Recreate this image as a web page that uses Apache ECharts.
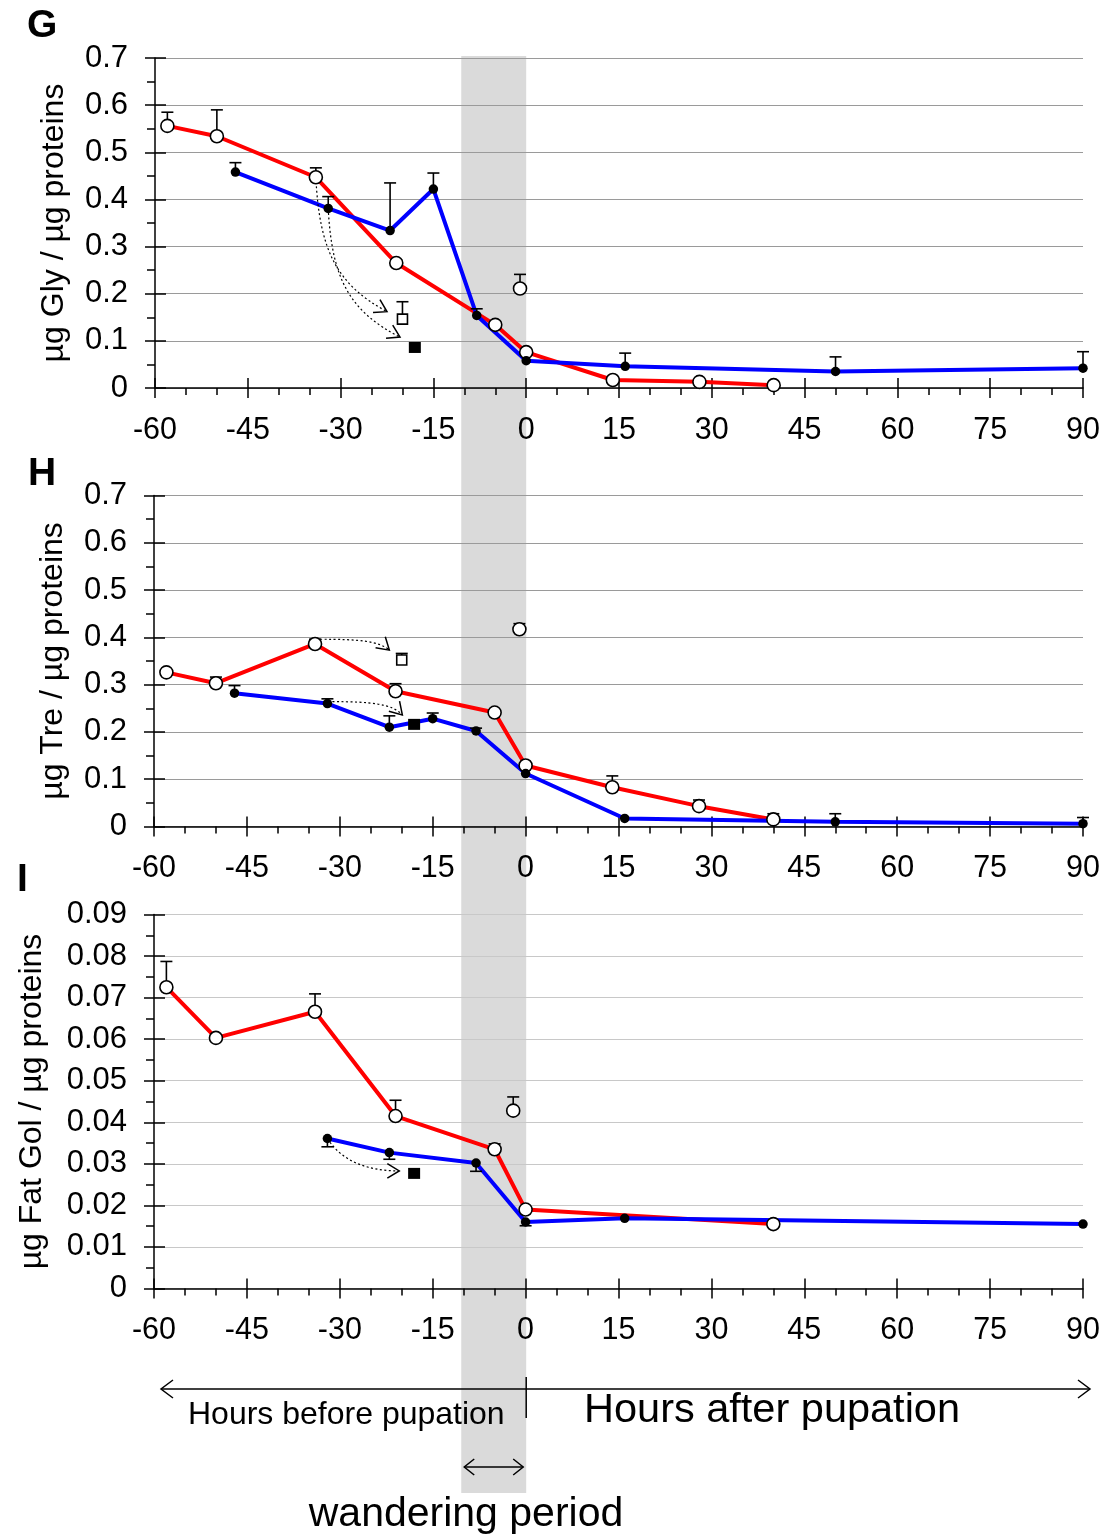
<!DOCTYPE html>
<html><head><meta charset="utf-8">
<script src="https://cdn.jsdelivr.net/npm/echarts@6/dist/echarts.min.js"></script>
<style>html,body{margin:0;padding:0;background:#fff}#c{width:1110px;height:1539px}</style>
</head><body><div id="c"></div>
<script>
// ---------- data ----------
const xTickLabels = [-60,-45,-30,-15,0,15,30,45,60,75,90];
const wandering = [-10.5, 0];

// Panel G : glycogen
const gRedX   = [-58,-50,-34,-21,-5,0,14,28,40];
const gRedY   = [0.556,0.534,0.447,0.265,0.134,0.076,0.017,0.013,0.006];
const gRedErr = [0.029,0.056,0.020,0.007,0.007,0,0,0,0];
const gBlueX  = [-47,-32,-22,-15,-8,0,16,50,90];
const gBlueY  = [0.458,0.381,0.334,0.422,0.154,0.058,0.046,0.035,0.042];
const gBlueErr= [0.020,0.025,0.101,0.034,0.014,0,0.028,0.031,0.035];
const gIsoX = [-1], gIsoY = [0.211], gIsoErr = [0.030];
const gOpenSqX = [-20], gOpenSqY = [0.146], gOpenSqErr = [0.037];
const gFillSqX = [-18], gFillSqY = [0.086];

// Panel H : trehalose
const hRedX   = [-58,-50,-34,-21,-5,0,14,28,40];
const hRedY   = [0.326,0.303,0.386,0.286,0.241,0.129,0.083,0.043,0.015];
const hRedErr = [0.004,0.013,0.010,0.016,0.003,0.005,0.024,0.013,0.012];
const hBlueX  = [-47,-32,-22,-15,-8,0,16,50,90];
const hBlueY  = [0.282,0.260,0.210,0.228,0.202,0.112,0.017,0.010,0.006];
const hBlueErr= [0.016,0.010,0.024,0.012,0.006,0,0,0.017,0.013];
const hIsoX = [-1], hIsoY = [0.417], hIsoErr = [0.012];
const hOpenSqX = [-20], hOpenSqY = [0.352], hOpenSqErr = [0.014];
const hFillSqX = [-18], hFillSqY = [0.216];

// Panel I : fat glycerol
const iRedX   = [-58,-50,-34,-21,-5,0,40];
const iRedY   = [0.0725,0.0603,0.0666,0.0415,0.0335,0.0190,0.0155];
const iRedErr = [0.0062,0,0.0043,0.0038,0.0013,0,0];
const iBlueX  = [-32,-22,-8,0,16,90];
const iBlueY  = [0.0361,0.0327,0.0302,0.0160,0.0169,0.0155];
const iBlueErr= [0.0020,0.0016,0.0020,0.0009,0,0];
const iIsoX = [-2], iIsoY = [0.0428], iIsoErr = [0.0033];
const iOpenSqX = [], iOpenSqY = [], iOpenSqErr = [];
const iFillSqX = [-18], iFillSqY = [0.0277];

// dotted annotation arrows (data coordinates: from, to)
const gArrows = [[[-34,0.447],[-22.5,0.162]], [[-32,0.381],[-20.4,0.108]]];
const hArrows = [[[-33.2,0.396],[-22.0,0.373]], [[-31.2,0.264],[-19.9,0.236]]];
const iArrows = [[[-32,0.0361],[-20.4,0.0283]]];

// ---------- layout / style ----------
const F = "'Liberation Sans', Arial, Helvetica, sans-serif";
const panels = [
  {letter:'G', letterPos:[27,26], grid:{left:155,top:58,width:928,height:330}, ymax:0.7, yint:0.1, gridColor:'#9a9a9a',
   name:'µg Gly / µg proteins', nameGap:85,
   red:[gRedX,gRedY,gRedErr], blue:[gBlueX,gBlueY,gBlueErr], blueDir:1,
   iso:[gIsoX,gIsoY,gIsoErr], osq:[gOpenSqX,gOpenSqY,gOpenSqErr], fsq:[gFillSqX,gFillSqY],
   arrows:gArrows, c1:[0.05,0.55], c2:[0.3,0.8]},
  {letter:'H', letterPos:[28,474], grid:{left:154,top:495.5,width:929,height:331}, ymax:0.7, yint:0.1, gridColor:'#9a9a9a',
   name:'µg Tre / µg proteins', nameGap:85,
   red:[hRedX,hRedY,hRedErr], blue:[hBlueX,hBlueY,hBlueErr], blueDir:1,
   iso:[hIsoX,hIsoY,hIsoErr], osq:[hOpenSqX,hOpenSqY,hOpenSqErr], fsq:[hFillSqX,hFillSqY],
   arrows:hArrows, c1:[0.55,0], c2:[0.85,0.15]},
  {letter:'I', letterPos:[17,880], grid:{left:154,top:914.5,width:929,height:374}, ymax:0.09, yint:0.01, gridColor:'#c8c8c8',
   name:'µg Fat Gol / µg proteins', nameGap:106,
   red:[iRedX,iRedY,iRedErr], blue:[iBlueX,iBlueY,iBlueErr], blueDir:-1,
   iso:[iIsoX,iIsoY,iIsoErr], osq:[iOpenSqX,iOpenSqY,iOpenSqErr], fsq:[iFillSqX,iFillSqY],
   arrows:iArrows, c1:[0.2,0.7], c2:[0.55,1.0]}
];

const zip = (xs, ys) => xs.map((x,i)=>[x, ys[i]]);
const errData = (xs, ys, es, dir) => xs.map((x,i)=>[x, ys[i], dir*es[i]]).filter(d=>d[2]!==0);
const blk = {color:'#000', width:1.5};

const option = {animation:false, grid:[], xAxis:[], yAxis:[], series:[]};

panels.forEach((p,k)=>{
  option.grid.push(Object.assign({containLabel:false}, p.grid));
  const xi = option.xAxis.length, yi = option.yAxis.length;
  option.xAxis.push({gridIndex:k, type:'value', min:xTickLabels[0], max:xTickLabels[xTickLabels.length-1], interval:15, position:'bottom',
    axisLine:{show:true, onZero:false, lineStyle:blk},
    axisTick:{show:true, length:10, lineStyle:blk},
    minorTick:{show:true, splitNumber:3, length:7, lineStyle:blk},
    splitLine:{show:false},
    axisLabel:{fontSize:30.5, fontFamily:F, color:'#000', margin:27}});
  option.xAxis.push({gridIndex:k, type:'value', min:xTickLabels[0], max:xTickLabels[xTickLabels.length-1], interval:15, position:'bottom',
    axisLine:{show:false, onZero:false}, axisTick:{show:true, inside:true, length:10, lineStyle:blk},
    axisLabel:{show:false}, splitLine:{show:false}});
  option.yAxis.push({gridIndex:k, type:'value', min:0, max:p.ymax, interval:p.yint, position:'left',
    axisLine:{show:true, onZero:false, lineStyle:blk},
    axisTick:{show:true, length:10, lineStyle:blk},
    minorTick:{show:true, splitNumber:2, length:8, lineStyle:blk},
    splitLine:{show:true, lineStyle:{color:p.gridColor, width:1.2}},
    axisLabel:{fontSize:31, fontFamily:F, color:'#000', margin:27,
      formatter:v=>String(Math.round(v*1000)/1000)},
    name:p.name, nameLocation:'middle', nameGap:p.nameGap,
    nameTextStyle:{fontSize:32, fontFamily:F, color:'#000'}});
  option.yAxis.push({gridIndex:k, type:'value', min:0, max:p.ymax, interval:p.yint, position:'left',
    axisLine:{show:false, onZero:false}, axisTick:{show:true, inside:true, length:11, lineStyle:blk},
    axisLabel:{show:false}, splitLine:{show:false}});

  const ax = {xAxisIndex:xi, yAxisIndex:yi};
  option.series.push(Object.assign({type:'line', data:zip(p.red[0],p.red[1]), symbol:'none', z:2,
    lineStyle:{color:'#ff0000', width:4}}, ax));
  option.series.push(Object.assign({type:'line', data:zip(p.blue[0],p.blue[1]), symbol:'none', z:2,
    lineStyle:{color:'#0000ff', width:4}}, ax));
  const errs = [].concat(
    errData(p.red[0],p.red[1],p.red[2],1),
    errData(p.blue[0],p.blue[1],p.blue[2],p.blueDir),
    errData(p.iso[0],p.iso[1],p.iso[2],1),
    errData(p.osq[0],p.osq[1],p.osq[2],1));
  option.series.push(Object.assign({type:'custom', z:3, data:errs, encode:{x:0,y:1},
    renderItem:(params, api)=>{
      const x=api.value(0), y=api.value(1), e=api.value(2);
      const a=api.coord([x,y]), b=api.coord([x,y+e]);
      const hw=6;
      return {type:'group', children:[
        {type:'line', shape:{x1:a[0],y1:a[1],x2:b[0],y2:b[1]}, style:{stroke:'#000',lineWidth:1.6}},
        {type:'line', shape:{x1:b[0]-hw,y1:b[1],x2:b[0]+hw,y2:b[1]}, style:{stroke:'#000',lineWidth:1.6}}
      ]};
    }}, ax));
  option.series.push(Object.assign({type:'scatter', z:5, symbol:'circle', symbolSize:13,
    data:zip(p.red[0],p.red[1]).concat(zip(p.iso[0],p.iso[1])),
    itemStyle:{color:'#ffffff', borderColor:'#000', borderWidth:1.6, opacity:1}}, ax));
  option.series.push(Object.assign({type:'scatter', z:5, symbol:'circle', symbolSize:9.5,
    data:zip(p.blue[0],p.blue[1]), itemStyle:{color:'#000', opacity:1}}, ax));
  option.series.push(Object.assign({type:'scatter', z:5, symbol:'rect', symbolSize:10,
    data:zip(p.osq[0],p.osq[1]), itemStyle:{color:'#ffffff', borderColor:'#000', borderWidth:1.6, opacity:1}}, ax));
  option.series.push(Object.assign({type:'scatter', z:5, symbol:'rect', symbolSize:[12,11],
    data:zip(p.fsq[0],p.fsq[1]), itemStyle:{color:'#000', opacity:1}}, ax));
});

const chart = echarts.init(document.getElementById('c'), null, {renderer:'canvas'});
chart.setOption(option);

// ---------- annotations ----------
const g = [];
const px0 = chart.convertToPixel({gridIndex:0}, [wandering[0], 0]);
const px1 = chart.convertToPixel({gridIndex:0}, [wandering[1], 0]);
g.push({type:'rect', z:-1, silent:true, shape:{x:px0[0], y:56, width:px1[0]-px0[0], height:1493-56}, style:{fill:'#dadada'}});

function arrowHead(tip, dir, len, ang){
  const pts = [];
  [ang, -ang].forEach(a=>{
    const c=Math.cos(a), s=Math.sin(a);
    const rx = -(dir[0]*c - dir[1]*s), ry = -(dir[0]*s + dir[1]*c);
    pts.push([tip[0]+rx*len, tip[1]+ry*len]);
  });
  return [pts[0], tip, pts[1]];
}

panels.forEach((p,k)=>{
  g.push({type:'text', z:10, style:{text:p.letter, x:p.letterPos[0], y:p.letterPos[1], font:'bold 39px '+F, fill:'#000', align:'left', verticalAlign:'middle'}});
  p.arrows.forEach(([from,to])=>{
    const a = chart.convertToPixel({gridIndex:k}, from);
    const b = chart.convertToPixel({gridIndex:k}, to);
    const dx=b[0]-a[0], dy=b[1]-a[1];
    const c1=[a[0]+p.c1[0]*dx, a[1]+p.c1[1]*dy], c2=[a[0]+p.c2[0]*dx, a[1]+p.c2[1]*dy];
    g.push({type:'bezierCurve', z:3, shape:{x1:a[0],y1:a[1],cpx1:c1[0],cpy1:c1[1],cpx2:c2[0],cpy2:c2[1],x2:b[0],y2:b[1]},
      style:{stroke:'#000', lineWidth:1.2, lineDash:[2,2.5], fill:null}});
    let tx=b[0]-c2[0], ty=b[1]-c2[1]; const L=Math.hypot(tx,ty)||1; tx/=L; ty/=L;
    g.push({type:'polyline', z:3, shape:{points:arrowHead(b,[tx,ty],14,0.55)}, style:{stroke:'#000', lineWidth:1.5, fill:null}});
  });
});

// bottom time-line annotation
const x0 = px1[0];
const yl = 1389;
g.push({type:'line', shape:{x1:161,y1:yl,x2:1090,y2:yl}, style:{stroke:'#000', lineWidth:1.5}});
g.push({type:'polyline', shape:{points:[[173,yl-9],[161,yl],[173,yl+9]]}, style:{stroke:'#000', lineWidth:1.5, fill:null}});
g.push({type:'polyline', shape:{points:[[1078,yl-9],[1090,yl],[1078,yl+9]]}, style:{stroke:'#000', lineWidth:1.5, fill:null}});
g.push({type:'line', shape:{x1:x0,y1:1377,x2:x0,y2:1418}, style:{stroke:'#000', lineWidth:1.5}});
g.push({type:'text', style:{text:'Hours before pupation', x:188, y:1415, font:'32px '+F, fill:'#000', align:'left', verticalAlign:'middle'}});
g.push({type:'text', style:{text:'Hours after pupation', x:584, y:1411, font:'41.5px '+F, fill:'#000', align:'left', verticalAlign:'middle'}});
const ya = 1467;
g.push({type:'line', shape:{x1:px0[0]+3,y1:ya,x2:x0-3,y2:ya}, style:{stroke:'#000', lineWidth:1.5}});
g.push({type:'polyline', shape:{points:[[px0[0]+13,ya-8],[px0[0]+3,ya],[px0[0]+13,ya+8]]}, style:{stroke:'#000', lineWidth:1.5, fill:null}});
g.push({type:'polyline', shape:{points:[[x0-13,ya-8],[x0-3,ya],[x0-13,ya+8]]}, style:{stroke:'#000', lineWidth:1.5, fill:null}});
g.push({type:'text', style:{text:'wandering period', x:466, y:1515, font:'41px '+F, fill:'#000', align:'center', verticalAlign:'middle'}});

chart.setOption({graphic:g});
</script></body></html>
